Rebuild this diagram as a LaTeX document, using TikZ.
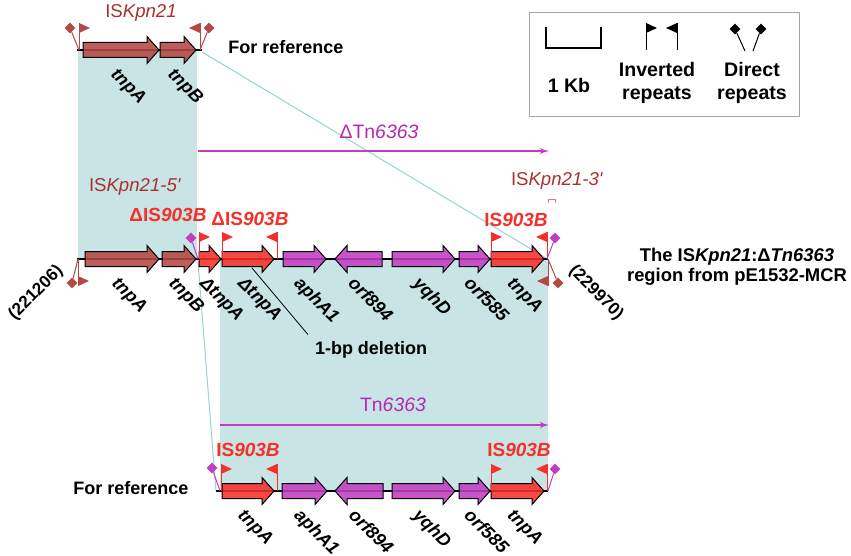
\documentclass[tikz,border=0pt]{standalone}
\usepackage{fontspec}
\setmainfont{Liberation Sans}
\usetikzlibrary{arrows,shapes.geometric}

\definecolor{isk}{RGB}{180,72,68}
\definecolor{iskt}{RGB}{168,48,48}
\definecolor{isred}{RGB}{245,48,42}
\definecolor{tnmag}{RGB}{192,62,192}
\definecolor{tntext}{RGB}{180,40,180}
\definecolor{homol}{RGB}{200,228,228}
\definecolor{homline}{RGB}{150,212,212}

\begin{document}
\begin{tikzpicture}[x=0.5pt,y=-0.5pt,>=latex',
    gene/.style={draw=black,line width=0.5pt,fill opacity=0.88},
    gene label/.style={font=\fontsize{9}{10}\selectfont\bfseries\itshape,
                       rotate=-45,anchor=north west,inner sep=0pt},
    black text/.style={font=\fontsize{9}{11}\selectfont\bfseries,align=center},
    legend text/.style={font=\fontsize{9.8}{11.5}\selectfont\bfseries,align=center},
    isk text/.style={font=\fontsize{9.3}{11}\selectfont,text=iskt},
    is text/.style={font=\fontsize{9.5}{11}\selectfont\bfseries,text=isred},
    tn text/.style={font=\fontsize{9.7}{11}\selectfont,text=tntext},
    backbone/.style={line width=0.75pt},
    dr/.style={diamond,draw=none,minimum size=5.5pt,inner sep=0pt},
    tn arrow/.style={tnmag,line width=0.6pt,->}]
  \useasboundingbox (0,0) rectangle (851,556);

  % homology shading
  \fill[homol] (78,50) rectangle (197,259);
  \fill[homol] (220,259) rectangle (548,491);
  \draw[homline,line width=0.5pt] (202,52) -- (546,258);
  \draw[homline,line width=0.5pt] (198,262) -- (216,491);

  % backbones
  \draw[backbone] (77,50) -- (202,50);
  \draw[backbone] (77,259) -- (548,259);
  \draw[backbone] (216,491) -- (548,491);

  % genes: tail/tip/row/colour/label
  \foreach \a/\b/\y/\c/\t [count=\i] in {
      83/159/50/isk/tnpA, 160/196/50/isk/tnpB,
      85/159/259/isk/tnpA, 162/196/259/isk/tnpB,
      199/221/259/isred/{ΔtnpA}, 222/274/259/isred/{ΔtnpA},
      283/326/259/tnmag/aphA1, 382/335/259/tnmag/orf894,
      392/455/259/tnmag/yqhD, 459/490/259/tnmag/orf585,
      491/544/259/isred/tnpA,
      222/274/491/isred/tnpA, 282/327/491/tnmag/aphA1,
      383/335/491/tnmag/orf894, 392/455/491/tnmag/yqhD,
      459/490/491/tnmag/orf585, 491/544/491/isred/tnpA}{
    \pgfmathsetmacro\h{\b-12*sign(\b-\a)}
    \pgfmathsetmacro\m{(\a+\b)/2}
    \draw[gene,fill=\c] (\a,\y-7.5) -- (\h,\y-7.5) -- (\h,\y-13.5) -- (\b,\y)
      -- (\h,\y+13.5) -- (\h,\y+7.5) -- (\a,\y+7.5) -- cycle;
    \node[gene label] (g\i) at (\m-2,\y+16) {\t};
  }

  % inverted repeats: x/row/direction/side/colour
  \foreach \x/\y/\d/\s/\c in {
      79/50/1/1/isk, 200/50/-1/1/isk,
      78/259/1/-1/isk, 548/259/-1/-1/isk,
      199/259/1/1/isred, 222/259/1/1/isred, 277/259/-1/1/isred,
      491/259/1/1/isred, 547/259/-1/1/isred,
      221/491/1/1/isred, 277/491/-1/1/isred,
      491/491/1/1/isred, 547/491/-1/1/isred,
      646/50/1/1/black, 677/50/-1/1/black}{
    \draw[\c,line width=0.5pt] (\x,\y) -- (\x,\y-27*\s);
    \fill[\c] (\x,\y-27*\s) -- (\x+11*\d,\y-22*\s) -- (\x,\y-17*\s) -- cycle;
  }

  % direct repeats
  \foreach \x/\y/\ex/\ey/\c [count=\i] in {
      70/28/79/50/isk, 209/28/200/50/isk,
      72/283/78/259/isk, 558/283/548/259/isk,
      191/238/198/259/tnmag, 555/238/547/259/tnmag,
      212/468/220/491/tnmag, 555/469/548/491/tnmag,
      735/29/745/51/black, 761/29/753/51/black}{
    \node[dr,fill=\c] (d\i) at (\x,\y) {};
    \draw[\c,line width=0.5pt] (d\i) -- (\ex,\ey);
  }

  % Tn6363 extents
  \coordinate (dtn0) at (198,151);
  \coordinate (dtn1) at (549,151);
  \draw[tn arrow] (dtn0) -- (dtn1);
  \node[tn text] (dtn) at (379,132) {ΔTn\textit{6363}};
  \coordinate (tn0) at (220,425);
  \coordinate (tn1) at (549,425);
  \draw[tn arrow] (tn0) -- (tn1);
  \node[tn text] (tn) at (393,405) {Tn\textit{6363}};

  % element names
  \node[isk text] (isk21) at (141,13) {IS\textit{Kpn21}};
  \node[isk text] (isk5) at (135,187) {IS\textit{Kpn21-5\textquotesingle}};
  \node[isk text] (isk3) at (557,181) {IS\textit{Kpn21-3\textquotesingle}};
  \draw[iskt!60,line width=0.5pt] (548,203) -- (548,199) -- (555,199) -- (555,203);
  \node[is text] (dis1) at (168,215) {ΔIS\textit{903B}};
  \node[is text] (dis2) at (250,219) {ΔIS\textit{903B}};
  \node[is text] (is3) at (516,220) {IS\textit{903B}};
  \node[is text] (is4) at (248,450) {IS\textit{903B}};
  \node[is text] (is5) at (519,450) {IS\textit{903B}};

  % other texts
  \node[black text] (ref1) at (286,47) {For reference};
  \node[black text] (ref2) at (131,488) {For reference};
  \node[black text,rotate=45,font=\fontsize{8.6}{10}\selectfont\bfseries] (left) at (36,293) {(221206)};
  \node[black text,rotate=-45,font=\fontsize{8.6}{10}\selectfont\bfseries] (right) at (596,293) {(229970)};
  \node[black text,font=\fontsize{9.2}{10}\selectfont\bfseries] (region) at (737,267)
    {The IS\textit{Kpn21}:Δ\textit{Tn6363}\\region from pE1532-MCR};
  \node[black text] (del) at (371,350) {1-bp deletion};
  \coordinate (delpt) at (252,268);
  \draw[line width=0.4pt] (delpt) -- (del.north west);

  % legend
  \draw[gray!70,line width=0.5pt] (529,13) rectangle (799,117);
  \draw[line width=0.9pt] (546,27) -- (546,48) -- (601,48) -- (601,27);
  \node[legend text] (kb) at (569,85) {1 Kb};
  \node[legend text] (ir) at (657,83) {Inverted\\repeats};
  \node[legend text] (drt) at (752,83) {Direct\\repeats};
\end{tikzpicture}
\end{document}
